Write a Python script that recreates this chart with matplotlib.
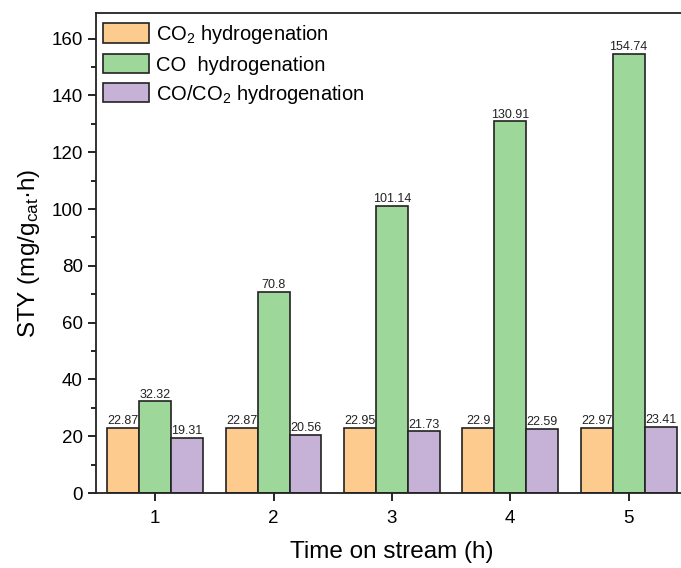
import matplotlib
matplotlib.use("Agg")
import matplotlib.pyplot as plt
import numpy as np
from matplotlib.ticker import MultipleLocator

plt.rcParams['font.family'] = ['Liberation Sans', 'DejaVu Sans']
plt.rcParams['mathtext.fontset'] = 'custom'
plt.rcParams['mathtext.rm'] = 'Liberation Sans'
plt.rcParams['mathtext.it'] = 'Liberation Sans:italic'
plt.rcParams['mathtext.bf'] = 'Liberation Sans:bold'

times = [1, 2, 3, 4, 5]
co2_hydro = [22.87, 22.87, 22.95, 22.90, 22.97]
co_hydro = [32.32, 70.8, 101.14, 130.91, 154.74]
mix_hydro = [19.31, 20.56, 21.73, 22.59, 23.41]
series_names = ["CO$_2$ hydrogenation", "CO  hydrogenation", "CO/CO$_2$ hydrogenation"]
colors = ["#FDCB8E", "#9DD79A", "#C6B2D6"]

fig = plt.figure(figsize=(6.81, 5.68), dpi=100)
ax = fig.add_axes([0.141, 0.132, 0.869, 0.845])

x = np.array(times, dtype=float)
w = 0.27
for i, (vals, name, c) in enumerate(zip([co2_hydro, co_hydro, mix_hydro], series_names, colors)):
    bars = ax.bar(x + (i - 1) * w, vals, width=w, color=c, edgecolor="#222222",
                  linewidth=1.2, label=name)
    ax.bar_label(bars, labels=[f"{v:g}" for v in vals], padding=0.5, fontsize=9, color="#222222")

ax.set_xlim(0.5, 5.5)
ax.set_ylim(0, 169)
ax.set_xticks(times)
ax.yaxis.set_major_locator(MultipleLocator(20))
ax.yaxis.set_minor_locator(MultipleLocator(10))
ax.tick_params(axis='both', which='major', direction='out', length=6, width=1.2, labelsize=13.5)
ax.tick_params(axis='x', which='major', pad=6)
ax.tick_params(axis='y', which='minor', direction='out', length=3.5, width=1.2)
ax.tick_params(axis='x', which='minor', bottom=False)
for s in ax.spines.values():
    s.set_linewidth(1.3)
    s.set_color("#222222")
ax.spines['right'].set_visible(False)

ax.set_xlabel("Time on stream (h)", fontsize=17.5, labelpad=10)
ax.set_ylabel("STY (mg/g$_\\mathregular{cat}$·h)", fontsize=17.5, labelpad=7)

leg = ax.legend(loc="upper left", frameon=False, fontsize=14.5, handlelength=2.25,
                handleheight=1.1, labelspacing=0.4, handletextpad=0.35,
                borderaxespad=0.0, borderpad=0.3, bbox_to_anchor=(0.002, 0.992))

fig.savefig("out.png", dpi=100)
